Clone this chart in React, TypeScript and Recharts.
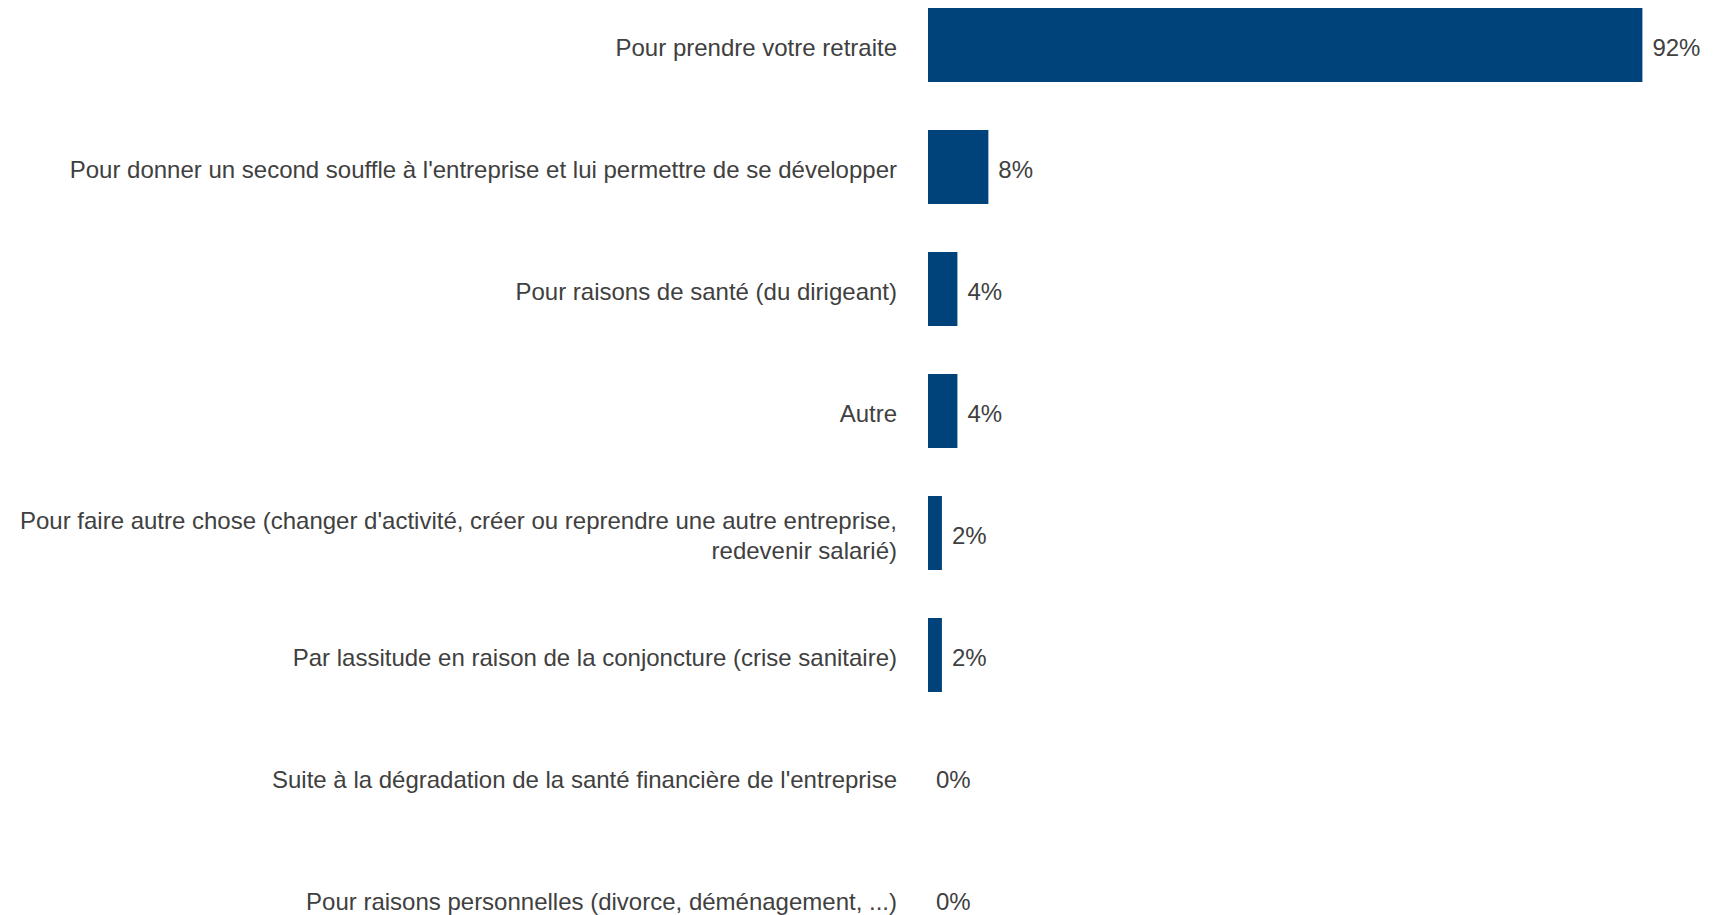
import React from "react";
import { BarChart, Bar, XAxis, YAxis, LabelList, Rectangle } from "recharts";

const categories: string[] = [
  "Pour prendre votre retraite",
  "Pour donner un second souffle à l'entreprise et lui permettre de se développer",
  "Pour raisons de santé (du dirigeant)",
  "Autre",
  "Pour faire autre chose (changer d'activité, créer ou reprendre une autre entreprise, redevenir salarié)",
  "Par lassitude en raison de la conjoncture (crise sanitaire)",
  "Suite à la dégradation de la santé financière de l'entreprise",
  "Pour raisons personnelles (divorce, déménagement, ...)",
];

const values: number[] = [92.3, 7.8, 3.8, 3.8, 1.8, 1.8, 0, 0];

const data = categories.map((name, i) => ({ name, value: values[i] }));

const FONT = "'Liberation Sans', Arial, sans-serif";
const TEXT = "#404040";
const BAR = "#00437A";

function wrap(text: string, max: number): string[] {
  const words = text.split(" ");
  const lines: string[] = [];
  let cur = "";
  for (const w of words) {
    const next = cur ? cur + " " + w : w;
    if (next.length > max && cur) {
      lines.push(cur);
      cur = w;
    } else {
      cur = next;
    }
  }
  if (cur) lines.push(cur);
  return lines;
}

const Tick = (props: any) => {
  const { x, y, payload } = props;
  const lines = wrap(String(payload.value), 85);
  const lh = 30;
  const start = -((lines.length - 1) * lh) / 2;
  return (
    <text
      x={x}
      y={y}
      textAnchor="end"
      fill={TEXT}
      fontSize={24}
      fontFamily={FONT}
    >
      {lines.map((l, i) => (
        <tspan key={i} x={x} y={y + start + i * lh} dy="0.44em">
          {l}
        </tspan>
      ))}
    </text>
  );
};

const BarShape = (props: any) => {
  const v = props?.payload?.value;
  if (!v) return <g />;
  return <Rectangle {...props} />;
};

const ValueLabel = (props: any) => {
  const { x, y, width, height, value } = props;
  const v = Number(value);
  const w = v ? Number(width) : 0;
  return (
    <text
      x={Number(x) + w + (v ? 10 : 8)}
      y={Number(y) + Number(height) / 2}
      dy="0.44em"
      fill={TEXT}
      fontSize={24}
      fontFamily={FONT}
      textAnchor="start"
    >
      {`${Math.round(v)}%`}
    </text>
  );
};

export default function App() {
  return (
    <div
      style={{
        position: "absolute",
        top: 0,
        left: 0,
        width: 1726,
        height: 915,
        overflow: "hidden",
        background: "#fff",
      }}
    >
      <div style={{ position: "absolute", top: -16, left: 0 }}>
        <BarChart
          width={1726}
          height={976}
          data={data}
          layout="vertical"
          margin={{ top: 0, right: 24, bottom: 0, left: 0 }}
        >
          <XAxis type="number" domain={[0, 100]} hide />
          <YAxis
            type="category"
            dataKey="name"
            width={928}
            axisLine={false}
            tickLine={false}
            tickSize={0}
            tickMargin={31}
            tick={<Tick />}
            interval={0}
          />
          <Bar
            dataKey="value"
            fill={BAR}
            barSize={74}
            minPointSize={0.5}
            shape={<BarShape />}
            isAnimationActive={false}
          >
            <LabelList dataKey="value" content={<ValueLabel />} />
          </Bar>
        </BarChart>
      </div>
    </div>
  );
}
